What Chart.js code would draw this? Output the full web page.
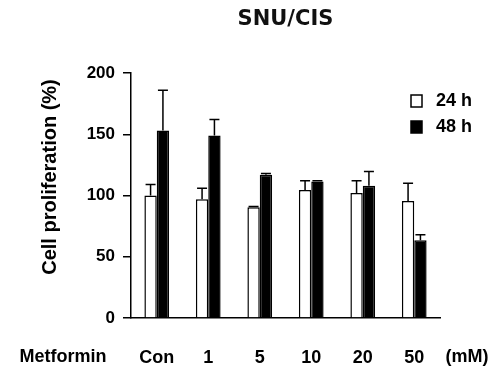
<!DOCTYPE html>
<html>
<head>
<meta charset="utf-8">
<script src="https://cdn.jsdelivr.net/npm/chart.js@4.4.0/dist/chart.umd.min.js"></script>
<style>
  html, body { margin: 0; padding: 0; background: #fff; }
  #wrap { width: 501px; height: 366px; }
</style>
</head>
<body>
<div id="wrap"><canvas id="chart" width="501" height="366"></canvas></div>
<script>
const doses = ['Con', '1', '5', '10', '20', '50'];
const h24 = [100, 97, 90.5, 104.5, 102, 95.5];
const h24Err = [9, 9, 0.5, 7.5, 10, 14.5];
const h48 = [153, 149, 117, 111.5, 108, 63.5];
const h48Err = [33, 13, 1, 0.5, 11.5, 4.5];
const yTicks = [0, 50, 100, 150, 200];

const FONT = "'Liberation Sans', Arial, sans-serif";

// error bars, upward only, with a cap
const errorBars = {
    id: 'errorBars',
    afterDatasetsDraw(chart) {
        const ctx = chart.ctx;
        const y = chart.scales.y;
        const errs = [h24Err, h48Err];
        ctx.save();
        ctx.strokeStyle = '#000';
        ctx.lineWidth = 1.5;
        chart.data.datasets.forEach((ds, i) => {
            const meta = chart.getDatasetMeta(i);
            meta.data.forEach((bar, j) => {
                const top = y.getPixelForValue(ds.data[j] + errs[i][j]);
                const base = y.getPixelForValue(ds.data[j]);
                ctx.beginPath();
                ctx.moveTo(bar.x, base);
                ctx.lineTo(bar.x, top);
                ctx.moveTo(bar.x - 5, top);
                ctx.lineTo(bar.x + 5, top);
                ctx.stroke();
            });
        });
        ctx.restore();
    }
};

// legend inside the plot, y title, side labels of the x row
const extras = {
    id: 'extras',
    afterDraw(chart) {
        const ctx = chart.ctx;
        ctx.save();
        ctx.font = 'bold 18px ' + FONT;
        ctx.fillStyle = '#000';
        ctx.textBaseline = 'middle';
        ctx.textAlign = 'left';

        chart.data.datasets.forEach((ds, i) => {
            const cy = 101 + i * 26;
            ctx.lineWidth = 1.5;
            ctx.strokeStyle = '#000';
            ctx.fillStyle = ds.backgroundColor;
            ctx.fillRect(411, cy - 6, 11, 12);
            ctx.strokeRect(411, cy - 6, 11, 12);
            ctx.fillStyle = '#000';
            ctx.fillText(ds.label, 436, cy);
        });

        ctx.textAlign = 'center';
        ctx.fillText('Metformin', 63, 357);
        ctx.fillText('(mM)', 467, 357);

        // y axis title, sits a bit above the middle of the axis
        ctx.translate(50, 177);
        ctx.rotate(-Math.PI / 2);
        ctx.font = 'bold 20px ' + FONT;
        ctx.fillText('Cell proliferation (%)', 0, 0);
        ctx.restore();
    }
};

new Chart(document.getElementById('chart'), {
    type: 'bar',
    data: {
        labels: doses,
        datasets: [
            {
                label: '24 h',
                data: h24,
                backgroundColor: '#fff',
                borderColor: '#000',
                borderWidth: 1.5
            },
            {
                label: '48 h',
                data: h48,
                backgroundColor: '#000',
                borderColor: '#000',
                borderWidth: 1.5
            }
        ]
    },
    options: {
        responsive: false,
        animation: false,
        layout: { padding: { left: 0, right: 61, top: 0, bottom: 0 } },
        datasets: {
            bar: { categoryPercentage: 0.48, barPercentage: 1 }
        },
        plugins: {
            legend: { display: false },
            tooltip: { enabled: false },
            title: {
                display: true,
                text: 'SNU/CIS',
                fullSize: false,
                color: '#111',
                font: { family: "'DejaVu Sans', sans-serif", size: 21, weight: 'bold' },
                padding: { top: 7, bottom: 40.8 }
            }
        },
        scales: {
            x: {
                grid: { display: false },
                border: { color: '#000', width: 1.5 },
                ticks: {
                    color: '#000',
                    padding: 21,
                    font: { family: FONT, size: 18, weight: 'bold' }
                },
                afterFit(scale) { scale.height = 48; }
            },
            y: {
                min: 0,
                max: 200,
                afterBuildTicks(scale) {
                    scale.ticks = yTicks.map(v => ({ value: v }));
                },
                grid: {
                    drawOnChartArea: false,
                    color: '#000',
                    lineWidth: 1.5,
                    tickLength: 8
                },
                border: { color: '#000', width: 1.5 },
                ticks: {
                    color: '#000',
                    padding: 8,
                    font: { family: FONT, size: 17, weight: 'bold' }
                },
                afterFit(scale) { scale.width = 131; }
            }
        }
    },
    plugins: [errorBars, extras]
});
</script>
</body>
</html>
